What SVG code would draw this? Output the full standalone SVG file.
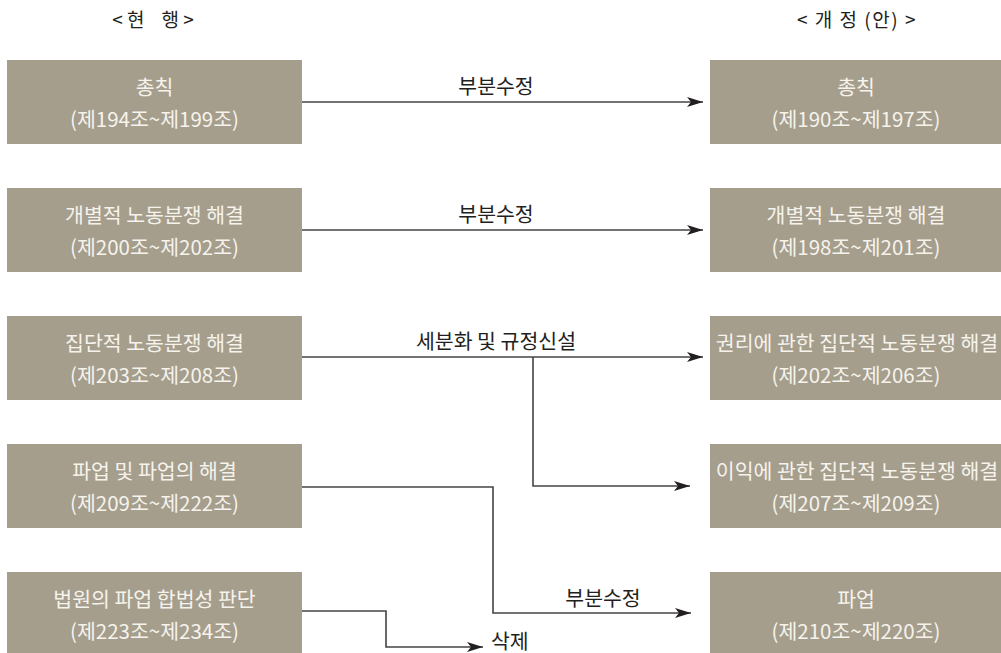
<svg xmlns="http://www.w3.org/2000/svg" width="1001" height="653" viewBox="0 0 1001 653">
  <style>
    .box { fill: #a59e8d; }
    .bt { font-family: "Noto Sans CJK KR", "Noto Sans", sans-serif; font-size: 20.5px; fill: #f6f3ec; text-anchor: middle; }
    .lbl { font-family: "Noto Sans CJK KR", "Noto Sans", sans-serif; font-size: 20.5px; fill: #231f20; }
    .hd { font-family: "Noto Sans CJK KR", "Noto Sans", sans-serif; font-size: 19px; fill: #231f20; text-anchor: middle; }
    .ln { fill: none; stroke: #444; stroke-width: 1.6; }
  </style>
  <defs>
    <marker id="ah" markerUnits="userSpaceOnUse" markerWidth="18" markerHeight="12" refX="16" refY="6" orient="auto">
      <path d="M0,1 L16,6 L0,11 L4,6 z" fill="#231f20"/>
    </marker>
  </defs>
  <rect width="1001" height="653" fill="#ffffff"/>

  <g id="headers">
    <text class="hd" x="153" y="27" xml:space="preserve">&lt; 현    행 &gt;</text>
    <text class="hd" x="857" y="27" xml:space="preserve" letter-spacing="1.5">&lt; 개 정 (안) &gt;</text>
  </g>

  <g id="cur1"><rect class="box" x="7" y="60" width="295" height="84"/>
    <text class="bt" x="154.5" y="95">총칙</text><text class="bt" x="154.5" y="127">(제194조~제199조)</text></g>
  <g id="cur2"><rect class="box" x="7" y="188" width="295" height="84"/>
    <text class="bt" x="154.5" y="223">개별적 노동분쟁 해결</text><text class="bt" x="154.5" y="255">(제200조~제202조)</text></g>
  <g id="cur3"><rect class="box" x="7" y="316" width="295" height="84"/>
    <text class="bt" x="154.5" y="351">집단적 노동분쟁 해결</text><text class="bt" x="154.5" y="383">(제203조~제208조)</text></g>
  <g id="cur4"><rect class="box" x="7" y="444" width="295" height="84"/>
    <text class="bt" x="154.5" y="479">파업 및 파업의 해결</text><text class="bt" x="154.5" y="511">(제209조~제222조)</text></g>
  <g id="cur5"><rect class="box" x="7" y="572" width="295" height="84"/>
    <text class="bt" x="154.5" y="607">법원의 파업 합법성 판단</text><text class="bt" x="154.5" y="639">(제223조~제234조)</text></g>

  <g id="new1"><rect class="box" x="710" y="60" width="291" height="84"/>
    <text class="bt" x="856" y="95">총칙</text><text class="bt" x="856" y="127">(제190조~제197조)</text></g>
  <g id="new2"><rect class="box" x="710" y="188" width="291" height="84"/>
    <text class="bt" x="856" y="223">개별적 노동분쟁 해결</text><text class="bt" x="856" y="255">(제198조~제201조)</text></g>
  <g id="new3"><rect class="box" x="710" y="316" width="291" height="84"/>
    <text class="bt" x="857" y="351">권리에 관한 집단적 노동분쟁 해결</text><text class="bt" x="856" y="383">(제202조~제206조)</text></g>
  <g id="new4"><rect class="box" x="710" y="444" width="291" height="84"/>
    <text class="bt" x="857" y="479">이익에 관한 집단적 노동분쟁 해결</text><text class="bt" x="856" y="511">(제207조~제209조)</text></g>
  <g id="new5"><rect class="box" x="710" y="572" width="291" height="84"/>
    <text class="bt" x="856" y="607">파업</text><text class="bt" x="856" y="639">(제210조~제220조)</text></g>

  <g id="connectors">
    <path class="ln" d="M302,102 H703" marker-end="url(#ah)"/>
    <path class="ln" d="M302,230 H703" marker-end="url(#ah)"/>
    <path class="ln" d="M302,357 H703" marker-end="url(#ah)"/>
    <path class="ln" d="M533,357 V486 H690" marker-end="url(#ah)"/>
    <path class="ln" d="M302,487 H493 V613 H691" marker-end="url(#ah)"/>
    <path class="ln" d="M302,611 H386 V647 H483" marker-end="url(#ah)"/>
  </g>

  <g id="labels">
    <text class="lbl" x="496" y="94" text-anchor="middle">부분수정</text>
    <text class="lbl" x="496" y="222" text-anchor="middle">부분수정</text>
    <text class="lbl" x="496" y="349" text-anchor="middle">세분화 및 규정신설</text>
    <text class="lbl" x="603" y="606" text-anchor="middle">부분수정</text>
    <text class="lbl" x="491" y="649">삭제</text>
  </g>
</svg>
